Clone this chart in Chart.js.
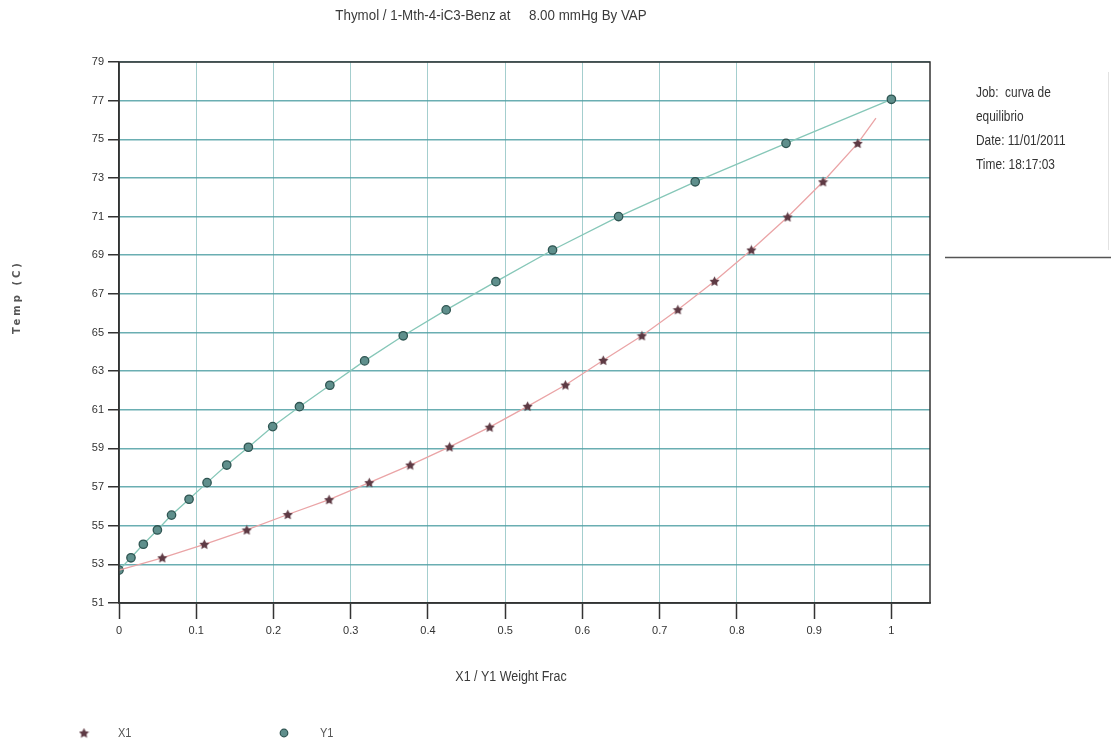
<!DOCTYPE html>
<html>
<head>
<meta charset="utf-8">
<script src="https://cdn.jsdelivr.net/npm/chart.js@4.4.1/dist/chart.umd.min.js"></script>
<style>
  html, body { margin: 0; padding: 0; background: #ffffff; }
  #wrap { width: 1111px; height: 743px; position: relative; }
</style>
</head>
<body>
<div id="wrap"><canvas id="c" width="1111" height="743"></canvas></div>
<script>
// ---- texts ----
const titleText = 'Thymol / 1-Mth-4-iC3-Benz at     8.00 mmHg By VAP';
const xAxisTitle = 'X1 / Y1 Weight Frac';
const yAxisTitle = 'Temp (C)';
const infoLines = ['Job:  curva de', 'equilibrio', 'Date: 11/01/2011', 'Time: 18:17:03'];
const seriesNames = ['X1', 'Y1'];
const xTickLabels = ['0', '0.1', '0.2', '0.3', '0.4', '0.5', '0.6', '0.7', '0.8', '0.9', '1'];

// ---- data ----
// X1: liquid weight fraction vs temperature
const fracX1 = [0, 0.056, 0.1105, 0.1654, 0.2185, 0.272, 0.324, 0.377, 0.428, 0.480, 0.529,
                0.578, 0.627, 0.677, 0.7235, 0.771, 0.8187, 0.8657, 0.9115, 0.9564, 0.980];
const tempX1 = [52.70, 53.34, 54.04, 54.78, 55.58, 56.35, 57.23, 58.14, 59.08, 60.10, 61.18,
                62.28, 63.56, 64.83, 66.18, 67.65, 69.27, 70.98, 72.80, 74.79, 76.10];
// Y1: vapour weight fraction vs temperature
const fracY1 = [0, 0.0155, 0.0315, 0.0497, 0.068, 0.0907, 0.114, 0.1395, 0.1675, 0.199, 0.2336,
                0.273, 0.318, 0.368, 0.4236, 0.488, 0.5613, 0.6468, 0.746, 0.8636, 1.0];
const tempY1 = [52.70, 53.34, 54.04, 54.78, 55.55, 56.37, 57.23, 58.14, 59.06, 60.13, 61.16,
                62.27, 63.53, 64.83, 66.17, 67.63, 69.27, 71.00, 72.80, 74.79, 77.07];

const NARROW = '"Liberation Sans Narrow", "Liberation Sans", Arial, sans-serif';

function makeStar() {
  const c = document.createElement('canvas');
  c.width = 11; c.height = 11;
  const g = c.getContext('2d');
  g.fillStyle = '#5e3a44';
  g.beginPath();
  for (let i = 0; i < 10; i++) {
    const r = i % 2 ? 2.7 : 5.3;
    const a = -Math.PI / 2 + i * Math.PI / 5;
    g.lineTo(5.5 + r * Math.cos(a), 5.9 + r * Math.sin(a));
  }
  g.closePath();
  g.fill();
  return c;
}
const starImg = makeStar();

const toPts = (xs, ys) => xs.map((x, i) => ({ x: x, y: ys[i] }));

// draw condensed text (horizontal squeeze to mimic a narrow face)
function narrowText(ctx, text, x, y, size, squeeze, align) {
  ctx.save();
  ctx.translate(x, y);
  ctx.scale(squeeze, 1);
  ctx.font = size + 'px ' + NARROW;
  ctx.textAlign = align;
  ctx.textBaseline = 'middle';
  ctx.fillText(text, 0, 0);
  ctx.restore();
}

const decor = {
  id: 'decor',
  afterDraw(chart) {
    const { ctx, chartArea: a } = chart;
    ctx.save();
    // plot frame
    ctx.strokeStyle = '#333';
    ctx.lineWidth = 1.5;
    ctx.strokeRect(a.left, a.top, a.right - a.left, a.bottom - a.top);

    // title
    ctx.fillStyle = '#3a3a3a';
    narrowText(ctx, titleText, 491, 16, 15, 0.89, 'center');

    // x title
    narrowText(ctx, xAxisTitle, 511, 677, 14, 0.89, 'center');

    // y title
    ctx.save();
    ctx.translate(17, 297);
    ctx.rotate(-Math.PI / 2);
    ctx.font = 'bold 10px "DejaVu Sans", sans-serif';
    ctx.textAlign = 'center';
    ctx.textBaseline = 'middle';
    try { ctx.letterSpacing = '3px'; } catch (e) {}
    ctx.fillStyle = '#555';
    ctx.fillText(yAxisTitle, 0, 0);
    ctx.restore();

    // info box
    ctx.strokeStyle = '#555';
    ctx.lineWidth = 1.5;
    ctx.beginPath();
    ctx.moveTo(945, 257.5); ctx.lineTo(1111, 257.5);
    ctx.stroke();
    ctx.strokeStyle = '#e2e2e2';
    ctx.lineWidth = 1;
    ctx.beginPath();
    ctx.moveTo(1108.5, 72); ctx.lineTo(1108.5, 250);
    ctx.stroke();
    ctx.fillStyle = '#333';
    infoLines.forEach((t, i) => narrowText(ctx, t, 976, 93 + i * 24, 14, 0.85, 'left'));

    // legend
    ctx.fillStyle = '#555';
    ctx.drawImage(starImg, 84 - 5.5, 733 - 5.5);
    narrowText(ctx, seriesNames[0], 118, 733, 13, 0.85, 'left');
    ctx.beginPath();
    ctx.arc(284, 733, 3.8, 0, Math.PI * 2);
    ctx.fillStyle = '#5f8f8c';
    ctx.fill();
    ctx.strokeStyle = '#2f5552';
    ctx.lineWidth = 1.2;
    ctx.stroke();
    ctx.fillStyle = '#555';
    narrowText(ctx, seriesNames[1], 320, 733, 13, 0.85, 'left');
    ctx.restore();
  }
};

new Chart(document.getElementById('c'), {
  type: 'scatter',
  data: {
    datasets: [
      {
        label: seriesNames[0],
        data: toPts(fracX1, tempX1),
        showLine: true,
        borderColor: '#eaa4a6',
        borderWidth: 1.3,
        pointStyle: starImg,
        pointRadius: ctx => (ctx.dataIndex === 0 || ctx.dataIndex === fracX1.length - 1) ? 0 : 5,
        order: 1
      },
      {
        label: seriesNames[1],
        data: toPts(fracY1, tempY1),
        showLine: true,
        borderColor: '#86c7b8',
        borderWidth: 1.3,
        pointStyle: 'circle',
        pointRadius: 4.2,
        pointBackgroundColor: '#5f8f8c',
        pointBorderColor: '#2f5552',
        pointBorderWidth: 1.3,
        order: 2
      }
    ]
  },
  options: {
    responsive: false,
    animation: false,
    devicePixelRatio: 1,
    events: [],
    layout: { padding: { left: 0, top: 62, right: 181, bottom: 0 } },
    plugins: { legend: { display: false }, title: { display: false }, tooltip: { enabled: false } },
    scales: {
      x: {
        type: 'linear',
        min: 0,
        max: 1.05,
        afterFit: s => { s.height = 140; },
        border: { display: true, color: '#333', width: 1.5 },
        grid: { color: 'rgba(125,185,185,0.7)', lineWidth: 1, tickColor: '#333', tickLength: 16, tickWidth: 1.5 },
        ticks: {
          stepSize: 0.1,
          includeBounds: false,
          padding: 5,
          color: '#333',
          font: { family: NARROW, size: 11 },
          maxRotation: 0,
          callback: v => xTickLabels[Math.round(v * 10)]
        }
      },
      y: {
        type: 'linear',
        min: 51,
        max: 79,
        afterFit: s => { s.width = 119; },
        border: { display: true, color: '#333', width: 1.5 },
        grid: { color: 'rgba(80,160,165,0.85)', lineWidth: 1.5, tickColor: '#333', tickLength: 11, tickWidth: 1.5 },
        ticks: {
          stepSize: 2,
          padding: 4,
          color: '#333',
          font: { family: NARROW, size: 11 }
        }
      }
    }
  },
  plugins: [decor]
});
</script>
</body>
</html>
